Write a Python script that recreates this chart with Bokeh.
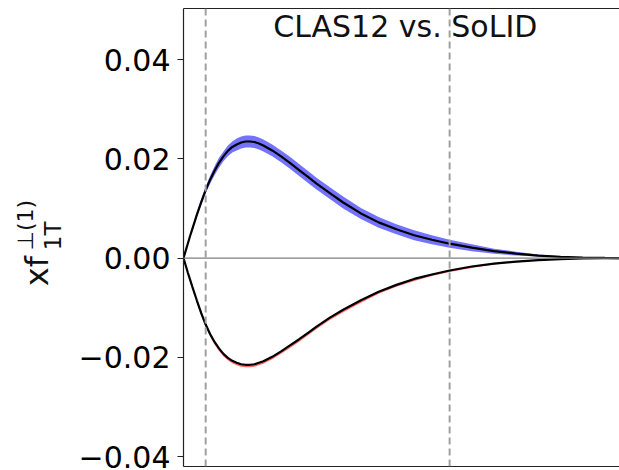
import math
from bokeh.plotting import figure
from bokeh.layouts import row
from bokeh.models import Range1d, FixedTicker, LinearAxis, Span, Label, ColumnDataSource
from bokeh.embed import file_html
from bokeh.resources import INLINE

# ---- data ----
x_vals = [0.0, 0.005, 0.01, 0.015, 0.02, 0.03, 0.04, 0.05, 0.06, 0.07, 0.08, 0.09, 0.10,
          0.11, 0.12, 0.13, 0.14, 0.15, 0.16, 0.17, 0.18, 0.20, 0.22, 0.24, 0.26, 0.28,
          0.30, 0.33, 0.36, 0.40, 0.44, 0.48, 0.52, 0.56, 0.60, 0.65, 0.70, 0.75, 0.80,
          0.85, 0.90, 0.95, 1.0]
clas_mean = [0.0, 0.0015, 0.0030, 0.0045, 0.0059, 0.0087, 0.0113, 0.0137, 0.0158, 0.0176,
             0.0192, 0.0205, 0.0216, 0.0224, 0.0229, 0.0233, 0.0235, 0.0235, 0.0234, 0.0231,
             0.0227, 0.0217, 0.0205, 0.0192, 0.0178, 0.0164, 0.0150, 0.0131, 0.0112, 0.0090,
             0.0072, 0.0058, 0.0046, 0.0037, 0.0029, 0.0021, 0.0014, 0.0009, 0.0005, 0.00025,
             0.0001, 0.00003, 0.0]
clas_err = [0.0, 0.0001, 0.0002, 0.0003, 0.0004, 0.0005, 0.0006, 0.0007, 0.0008, 0.0009,
            0.0010, 0.0010, 0.0011, 0.0011, 0.0012, 0.0012, 0.0012, 0.0012, 0.0012, 0.0012,
            0.0012, 0.0012, 0.0012, 0.0012, 0.0012, 0.0012, 0.0012, 0.0012, 0.0012, 0.0011,
            0.0011, 0.0010, 0.0010, 0.0009, 0.0008, 0.0007, 0.0005, 0.0004, 0.0002, 0.0001,
            0.00005, 0.0, 0.0]
solid_mean = [0.0, -0.0015, -0.0030, -0.0044, -0.0058, -0.0085, -0.0111, -0.0134, -0.0153,
              -0.0169, -0.0182, -0.0193, -0.0201, -0.0207, -0.0211, -0.0214, -0.0215, -0.0215,
              -0.0214, -0.0211, -0.0208, -0.0199, -0.0188, -0.0176, -0.0164, -0.0151, -0.0138,
              -0.0120, -0.0104, -0.0085, -0.0068, -0.0054, -0.0042, -0.0033, -0.0025, -0.0017,
              -0.0011, -0.0007, -0.0004, -0.0002, -0.00008, -0.00002, 0.0]
solid_err_low = [0.0, 0.0001, 0.0002, 0.0003, 0.0004, 0.0005, 0.0005, 0.0005, 0.0005, 0.0005,
                 0.0005, 0.0005, 0.0005, 0.0005, 0.0005, 0.0005, 0.0005, 0.0005, 0.0005, 0.0005,
                 0.0005, 0.0005, 0.0005, 0.0005, 0.0005, 0.0005, 0.0005, 0.0005, 0.0005, 0.0005,
                 0.0004, 0.0004, 0.0004, 0.0003, 0.0003, 0.0003, 0.0002, 0.0002, 0.0001, 0.0001,
                 0.0, 0.0, 0.0]
solid_err_high = [0.0, 0.0, 0.0001, 0.0001, 0.0001, 0.0001, 0.0001, 0.0001, 0.0001, 0.0001,
                  0.0001, 0.0001, 0.0001, 0.0001, 0.0001, 0.0001, 0.0001, 0.0001, 0.0001, 0.0001,
                  0.0001, 0.0001, 0.0001, 0.0001, 0.0001, 0.0001, 0.0001, 0.0001, 0.0001, 0.0001,
                  0.0001, 0.0001, 0.0001, 0.0001, 0.0001, 0.0001, 0.0, 0.0, 0.0, 0.0,
                  0.0, 0.0, 0.0]
x_markers = [0.05, 0.6]
y_ticks = [-0.04, -0.02, 0.0, 0.02, 0.04]
y_tick_labels = ["\u22120.04", "\u22120.02", "0.00", "0.02", "0.04"]
title_text = "CLAS12 vs. SoLID"
ylabel_main = "xf"
ylabel_sub = "1T"
ylabel_sup = "\u22a5(1)"

FONT = "DejaVu Sans"
H = 470
LW = 75  # width of the strip that holds the rotated y label

# ---- main plot ----
p = figure(width=619 - LW, height=H, output_backend="svg", toolbar_location=None,
           x_range=Range1d(0.0, 0.983), y_range=Range1d(-0.0420, 0.0503),
           x_axis_location=None, y_axis_location=None,
           min_border_left=107, min_border_right=0, min_border_top=8, min_border_bottom=4)
p.outline_line_color = None
p.grid.visible = False
p.background_fill_color = "white"
p.border_fill_color = "white"

yax = LinearAxis(ticker=FixedTicker(ticks=y_ticks))
yax.major_label_overrides = {t: l for t, l in zip(y_ticks, y_tick_labels)}
yax.major_label_text_font = FONT
yax.major_label_text_font_size = "30px"
yax.major_label_text_color = "black"
yax.major_tick_out = 6
yax.major_tick_in = 0
yax.minor_tick_out = 0
yax.minor_tick_in = 0
yax.major_label_standoff = 7
yax.axis_line_color = "#222222"
yax.major_tick_line_color = "#222222"
yax.axis_line_width = 1.2
p.add_layout(yax, "left")

for loc in ("below", "above"):
    ax = LinearAxis(ticker=FixedTicker(ticks=[]))
    ax.major_label_text_font_size = "0px"
    ax.major_label_standoff = 0
    ax.major_tick_out = 0
    ax.minor_tick_out = 0
    ax.axis_line_color = "#222222"
    ax.axis_line_width = 1.2
    p.add_layout(ax, loc)

p.add_layout(Span(location=0.0, dimension="width", line_color="#7f7f7f", line_width=1.2))
for xm in x_markers:
    p.add_layout(Span(location=xm, dimension="height", line_color="#a0a0a0",
                      line_width=2, line_dash="7 4"))

blue_src = ColumnDataSource(dict(
    x=x_vals,
    lo=[m - e for m, e in zip(clas_mean, clas_err)],
    hi=[m + e for m, e in zip(clas_mean, clas_err)]))
red_src = ColumnDataSource(dict(
    x=x_vals,
    lo=[m - e for m, e in zip(solid_mean, solid_err_low)],
    hi=[m + e for m, e in zip(solid_mean, solid_err_high)]))
p.varea(x="x", y1="lo", y2="hi", source=blue_src, fill_color="blue", fill_alpha=0.55)
p.varea(x="x", y1="lo", y2="hi", source=red_src, fill_color="red", fill_alpha=0.6)
p.line(x_vals, clas_mean, line_color="black", line_width=2.2)
p.line(x_vals, solid_mean, line_color="black", line_width=2.2)

p.add_layout(Label(x=0.5, y=0.0467, text=title_text, text_font=FONT, text_font_size="30px",
                   text_align="center", text_baseline="alphabetic", text_color="#111111"))

# ---- strip with the rotated y label (coordinates = pixels) ----
q = figure(width=LW, height=H, output_backend="svg", toolbar_location=None,
           x_range=Range1d(0, LW), y_range=Range1d(H, 0),
           x_axis_location=None, y_axis_location=None,
           min_border_left=0, min_border_right=0, min_border_top=0, min_border_bottom=0)
q.outline_line_color = None
q.grid.visible = False
q.background_fill_color = "white"
q.border_fill_color = "white"

ang = math.pi / 2
q.add_layout(Label(x=36, y=285, text=ylabel_main, angle=ang, text_font=FONT,
                   text_font_size="32px", text_align="left", text_baseline="alphabetic",
                   text_color="#111111"))
q.add_layout(Label(x=52, y=248, text=ylabel_sub, angle=ang, text_font=FONT,
                   text_font_size="23px", text_align="left", text_baseline="alphabetic",
                   text_color="#111111"))
q.add_layout(Label(x=25, y=248, text=ylabel_sup, angle=ang, text_font=FONT,
                   text_font_size="22px", text_align="left", text_baseline="alphabetic",
                   text_color="#111111"))

layout = row(q, p, spacing=0)
open("out.html", "w").write(file_html(layout, INLINE))
